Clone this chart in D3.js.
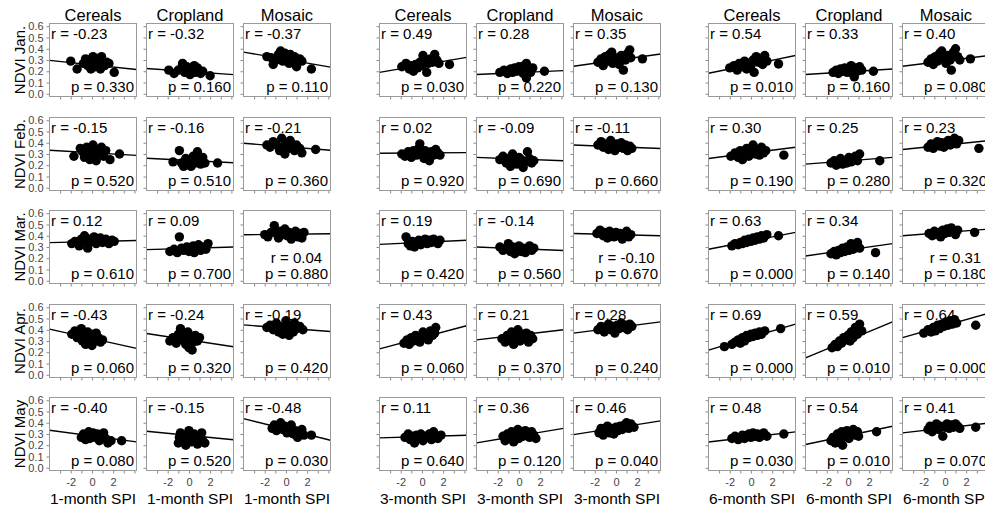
<!DOCTYPE html>
<html>
<head>
<meta charset="utf-8">
<script src="https://cdn.jsdelivr.net/npm/d3@7"></script>
<style>
  body { margin: 0; background: #fff; }
  svg { display: block; }
  text { font-family: "Liberation Sans", Arial, Helvetica, sans-serif; }
</style>
</head>
<body>
<svg id="chart" width="985" height="509"></svg>
<script>
// ---- categories and labels ----
const spiScales = ["1-month SPI", "3-month SPI", "6-month SPI"];
const months = ["Jan.", "Feb.", "Mar.", "Apr.", "May"];
const covers = ["Cereals", "Cropland", "Mosaic"];
const yTicks = [0, 0.1, 0.2, 0.3, 0.4, 0.5, 0.6];
const xTicks = [-3, -2, -1, 0, 1, 2, 3, 4];
const xTickLabels = [-2, 0, 2];

// ---- correlation coefficients (rows: months, cols: covers) ----
const r1m = [[-0.23, -0.32, -0.37], [-0.15, -0.16, -0.21], [0.12, 0.09, 0.04], [-0.43, -0.24, -0.19], [-0.40, -0.15, -0.48]];
const r3m = [[0.49, 0.28, 0.35], [0.02, -0.09, -0.11], [0.19, -0.14, -0.10], [0.43, 0.21, 0.28], [0.11, 0.36, 0.46]];
const r6m = [[0.54, 0.33, 0.40], [0.30, 0.25, 0.23], [0.63, 0.34, 0.31], [0.69, 0.59, 0.64], [0.48, 0.54, 0.41]];

// ---- p-values ----
const p1m = [[0.330, 0.160, 0.110], [0.520, 0.510, 0.360], [0.610, 0.700, 0.880], [0.060, 0.320, 0.420], [0.080, 0.520, 0.030]];
const p3m = [[0.030, 0.220, 0.130], [0.920, 0.690, 0.660], [0.420, 0.560, 0.670], [0.060, 0.370, 0.240], [0.640, 0.120, 0.040]];
const p6m = [[0.010, 0.160, 0.080], [0.190, 0.280, 0.320], [0.000, 0.140, 0.180], [0.000, 0.010, 0.000], [0.030, 0.010, 0.070]];

// ---- fitted lines: [intercept, slope] of NDVI on SPI ----
const fit1m = [
  [[0.257, -0.0098], [0.198, -0.0067], [0.305, -0.0163]],
  [[0.311, -0.0055], [0.243, -0.0048], [0.365, -0.0076]],
  [[0.348, 0.0024], [0.288, 0.0029], [0.413, 0.0011]],
  [[0.322, -0.0209], [0.309, -0.0143], [0.414, -0.0072]],
  [[0.283, -0.0126], [0.288, -0.0092], [0.343, -0.0234]]
];
const fit3m = [
  [[0.255, 0.0163], [0.188, 0.0043], [0.298, 0.0133]],
  [[0.309, 0.0007], [0.255, -0.0037], [0.365, -0.0037]],
  [[0.341, 0.0045], [0.285, -0.0037], [0.410, -0.0024]],
  [[0.330, 0.0251], [0.354, 0.0110], [0.419, 0.0122]],
  [[0.277, 0.0029], [0.284, 0.0157], [0.354, 0.0148]]
];
const fit6m = [
  [[0.259, 0.0192], [0.195, 0.0060], [0.291, 0.0116]],
  [[0.309, 0.0122], [0.239, 0.0073], [0.379, 0.0098]],
  [[0.353, 0.0183], [0.274, 0.0134], [0.429, 0.0073]],
  [[0.332, 0.0281], [0.306, 0.0390], [0.437, 0.0268]],
  [[0.273, 0.0109], [0.286, 0.0198], [0.353, 0.0107]]
];

// ---- observations: [SPI, NDVI] ----
const pts1m = [
  [ // Jan.
    [[-2.0,0.29],[-1.4,0.22],[-0.8,0.27],[-0.6,0.31],[-0.4,0.25],[-0.3,0.30],[-0.1,0.22],[0.0,0.28],[0.1,0.33],[0.2,0.26],[0.3,0.24],[0.5,0.29],[0.7,0.31],[0.8,0.22],[0.9,0.33],[1.0,0.27],[1.2,0.25],[1.4,0.28],[1.6,0.27],[2.1,0.19]],
    [[-1.9,0.21],[-1.4,0.18],[-1.0,0.21],[-0.7,0.23],[-0.6,0.27],[-0.4,0.19],[-0.2,0.24],[0.0,0.21],[0.1,0.17],[0.3,0.22],[0.5,0.25],[0.6,0.19],[0.8,0.23],[0.9,0.21],[1.1,0.18],[1.3,0.20],[2.0,0.16]],
    [[-1.8,0.33],[-1.4,0.32],[-1.2,0.26],[-0.9,0.30],[-0.7,0.35],[-0.5,0.38],[-0.4,0.33],[-0.3,0.29],[-0.1,0.36],[0.0,0.31],[0.2,0.34],[0.3,0.27],[0.4,0.35],[0.6,0.30],[0.8,0.33],[1.0,0.24],[1.3,0.31],[1.5,0.29],[2.4,0.22]]
  ],
  [ // Feb.
    [[-1.7,0.28],[-1.1,0.35],[-0.9,0.32],[-0.7,0.27],[-0.5,0.36],[-0.3,0.30],[-0.2,0.25],[0.0,0.33],[0.1,0.38],[0.2,0.29],[0.4,0.24],[0.5,0.34],[0.7,0.31],[0.9,0.36],[1.1,0.28],[1.3,0.33],[1.7,0.25],[2.6,0.30]],
    [[-1.5,0.23],[-0.9,0.33],[-0.7,0.22],[-0.5,0.19],[-0.3,0.26],[-0.1,0.21],[0.1,0.24],[0.2,0.19],[0.4,0.28],[0.6,0.22],[0.8,0.32],[0.9,0.25],[1.1,0.21],[1.3,0.27],[1.5,0.22],[2.7,0.22]],
    [[-1.8,0.38],[-1.5,0.36],[-1.2,0.41],[-0.9,0.38],[-0.6,0.33],[-0.4,0.44],[-0.3,0.36],[-0.1,0.30],[0.1,0.39],[0.3,0.35],[0.4,0.42],[0.6,0.37],[0.8,0.33],[1.0,0.38],[1.3,0.35],[1.5,0.31],[2.8,0.34]]
  ],
  [ // Mar.
    [[-1.9,0.33],[-1.6,0.35],[-1.2,0.31],[-1.0,0.37],[-0.7,0.40],[-0.5,0.34],[-0.4,0.29],[-0.2,0.37],[0.0,0.35],[0.2,0.39],[0.4,0.33],[0.6,0.36],[0.8,0.38],[1.0,0.34],[1.3,0.37],[1.6,0.33],[1.9,0.36],[2.1,0.35]],
    [[-1.8,0.26],[-1.4,0.28],[-1.1,0.25],[-0.9,0.39],[-0.7,0.29],[-0.5,0.27],[-0.2,0.30],[0.0,0.26],[0.2,0.28],[0.4,0.31],[0.5,0.25],[0.7,0.29],[0.9,0.32],[1.1,0.27],[1.3,0.30],[1.6,0.28],[1.8,0.33]],
    [[-2.0,0.41],[-1.7,0.39],[-1.4,0.43],[-1.1,0.49],[-0.9,0.42],[-0.7,0.38],[-0.5,0.44],[-0.3,0.41],[-0.1,0.46],[0.1,0.40],[0.3,0.43],[0.5,0.37],[0.7,0.41],[0.9,0.44],[1.1,0.39],[1.3,0.42],[1.5,0.38],[1.7,0.43]]
  ],
  [ // Apr.
    [[-1.9,0.36],[-1.6,0.39],[-1.4,0.33],[-1.2,0.37],[-1.0,0.41],[-0.9,0.30],[-0.7,0.35],[-0.6,0.27],[-0.4,0.38],[-0.3,0.32],[-0.1,0.36],[0.0,0.26],[0.1,0.34],[0.3,0.30],[0.4,0.37],[0.6,0.33],[0.8,0.29],[1.0,0.31]],
    [[-1.8,0.30],[-1.5,0.33],[-1.2,0.28],[-1.0,0.36],[-0.8,0.41],[-0.6,0.31],[-0.4,0.34],[-0.3,0.27],[-0.1,0.38],[0.0,0.24],[0.2,0.32],[0.3,0.22],[0.4,0.29],[0.6,0.35],[0.8,0.30],[1.0,0.33]],
    [[-1.8,0.42],[-1.5,0.44],[-1.2,0.40],[-0.9,0.46],[-0.7,0.38],[-0.5,0.42],[-0.3,0.36],[-0.1,0.44],[0.0,0.48],[0.2,0.40],[0.3,0.35],[0.5,0.43],[0.7,0.38],[0.8,0.46],[1.0,0.41],[1.3,0.43],[1.6,0.40]]
  ],
  [ // May
    [[-1.0,0.27],[-0.8,0.30],[-0.6,0.25],[-0.5,0.29],[-0.3,0.32],[-0.2,0.26],[0.0,0.29],[0.1,0.31],[0.3,0.27],[0.5,0.30],[0.7,0.24],[0.9,0.29],[1.1,0.31],[1.3,0.26],[1.5,0.22],[1.8,0.24],[2.8,0.24]],
    [[-1.0,0.22],[-0.9,0.27],[-0.8,0.31],[-0.6,0.24],[-0.5,0.29],[-0.3,0.20],[-0.1,0.26],[0.0,0.33],[0.2,0.23],[0.3,0.28],[0.5,0.30],[0.7,0.25],[0.8,0.21],[1.0,0.27],[1.2,0.31],[1.3,0.24],[1.5,0.22]],
    [[-1.3,0.35],[-1.1,0.38],[-0.9,0.33],[-0.7,0.36],[-0.5,0.40],[-0.3,0.34],[-0.1,0.37],[0.1,0.31],[0.3,0.35],[0.5,0.38],[0.7,0.30],[0.9,0.33],[1.1,0.27],[1.3,0.31],[1.5,0.34],[1.7,0.29],[2.4,0.29]]
  ]
];

const pts3m = [
  [ // Jan.
    [[-1.9,0.24],[-1.5,0.27],[-1.2,0.22],[-1.0,0.25],[-0.8,0.20],[-0.6,0.26],[-0.4,0.23],[-0.2,0.28],[0.0,0.25],[0.1,0.34],[0.3,0.30],[0.45,0.19],[0.6,0.27],[0.8,0.31],[1.0,0.28],[1.2,0.35],[1.4,0.30],[1.6,0.27],[2.6,0.26]],
    [[-1.8,0.19],[-1.4,0.21],[-1.1,0.18],[-0.8,0.22],[-0.6,0.19],[-0.4,0.23],[-0.2,0.20],[0.0,0.24],[0.2,0.21],[0.4,0.18],[0.5,0.25],[0.7,0.27],[0.7,0.14],[0.9,0.22],[1.1,0.19],[1.3,0.23],[2.4,0.20]],
    [[-1.7,0.28],[-1.4,0.31],[-1.2,0.25],[-1.0,0.33],[-0.8,0.29],[-0.6,0.35],[-0.4,0.37],[-0.3,0.27],[-0.1,0.32],[0.1,0.30],[0.3,0.26],[0.5,0.34],[0.7,0.21],[0.9,0.30],[1.1,0.36],[1.3,0.39],[1.4,0.32],[2.5,0.31]]
  ],
  [ // Feb.
    [[-1.9,0.30],[-1.6,0.28],[-1.3,0.32],[-1.0,0.27],[-0.8,0.33],[-0.5,0.29],[-0.3,0.35],[-0.2,0.39],[0.0,0.31],[0.2,0.26],[0.3,0.33],[0.5,0.30],[0.7,0.24],[0.9,0.32],[1.1,0.29],[1.3,0.34],[1.5,0.31],[1.7,0.29]],
    [[-1.8,0.25],[-1.5,0.28],[-1.2,0.22],[-1.0,0.26],[-0.8,0.19],[-0.6,0.30],[-0.4,0.24],[-0.2,0.21],[0.0,0.27],[0.2,0.25],[0.4,0.18],[0.6,0.23],[0.8,0.32],[1.0,0.26],[1.2,0.22],[1.4,0.24]],
    [[-1.7,0.38],[-1.4,0.41],[-1.2,0.36],[-0.9,0.39],[-0.7,0.34],[-0.5,0.42],[-0.3,0.37],[-0.1,0.33],[0.1,0.39],[0.3,0.36],[0.5,0.40],[0.7,0.35],[0.9,0.38],[1.1,0.33],[1.3,0.37],[1.5,0.35]]
  ],
  [ // Mar.
    [[-1.5,0.39],[-1.3,0.33],[-1.1,0.31],[-0.9,0.35],[-0.7,0.30],[-0.5,0.34],[-0.3,0.36],[-0.1,0.32],[0.1,0.35],[0.3,0.37],[0.5,0.33],[0.7,0.36],[0.9,0.34],[1.1,0.37],[1.3,0.35],[1.5,0.33],[1.7,0.36]],
    [[-1.8,0.30],[-1.5,0.27],[-1.2,0.29],[-1.0,0.33],[-0.8,0.26],[-0.6,0.30],[-0.4,0.24],[-0.2,0.28],[0.0,0.31],[0.2,0.26],[0.4,0.29],[0.6,0.25],[0.8,0.28],[1.0,0.31],[1.2,0.27],[1.4,0.29]],
    [[-1.8,0.42],[-1.5,0.45],[-1.2,0.40],[-1.0,0.43],[-0.8,0.38],[-0.6,0.44],[-0.4,0.41],[-0.2,0.39],[0.0,0.43],[0.2,0.40],[0.4,0.42],[0.6,0.37],[0.8,0.41],[1.0,0.44],[1.2,0.39],[1.4,0.41]]
  ],
  [ // Apr.
    [[-1.7,0.28],[-1.4,0.31],[-1.2,0.27],[-1.0,0.33],[-0.8,0.30],[-0.6,0.35],[-0.4,0.32],[-0.2,0.29],[0.0,0.34],[0.1,0.38],[0.3,0.33],[0.5,0.36],[0.6,0.31],[0.8,0.39],[1.0,0.35],[1.2,0.37],[1.3,0.42]],
    [[-1.6,0.32],[-1.3,0.29],[-1.1,0.35],[-0.9,0.31],[-0.7,0.38],[-0.5,0.27],[-0.3,0.34],[-0.1,0.40],[0.1,0.30],[0.3,0.36],[0.5,0.33],[0.7,0.37],[0.9,0.29],[1.1,0.35],[1.3,0.32]],
    [[-1.7,0.40],[-1.4,0.43],[-1.1,0.38],[-0.9,0.42],[-0.7,0.45],[-0.5,0.40],[-0.3,0.43],[-0.1,0.37],[0.1,0.44],[0.3,0.41],[0.5,0.46],[0.7,0.42],[0.9,0.44],[1.1,0.40],[1.3,0.45],[1.5,0.43]]
  ],
  [ // May
    [[-1.6,0.27],[-1.3,0.30],[-1.1,0.25],[-0.9,0.28],[-0.7,0.22],[-0.5,0.29],[-0.3,0.26],[-0.1,0.30],[0.1,0.24],[0.3,0.28],[0.5,0.27],[0.7,0.30],[0.9,0.25],[1.1,0.32],[1.3,0.28],[1.5,0.26],[1.8,0.29]],
    [[-1.5,0.28],[-1.3,0.24],[-1.1,0.30],[-0.9,0.27],[-0.7,0.32],[-0.5,0.23],[-0.3,0.29],[-0.1,0.34],[0.0,0.26],[0.2,0.31],[0.4,0.28],[0.6,0.33],[0.8,0.30],[1.0,0.27],[1.2,0.32],[1.4,0.29],[1.6,0.26]],
    [[-1.6,0.31],[-1.4,0.35],[-1.2,0.29],[-1.0,0.33],[-0.8,0.37],[-0.6,0.31],[-0.4,0.35],[-0.2,0.30],[0.0,0.36],[0.2,0.33],[0.4,0.37],[0.6,0.34],[0.8,0.38],[1.0,0.40],[1.2,0.35],[1.4,0.39],[1.7,0.36]]
  ]
];

const pts6m = [
  [ // Jan.
    [[-2.0,0.23],[-1.6,0.25],[-1.3,0.21],[-1.1,0.27],[-0.8,0.24],[-0.6,0.29],[-0.4,0.22],[-0.2,0.27],[0.0,0.25],[0.2,0.30],[0.3,0.19],[0.5,0.33],[0.7,0.28],[0.9,0.31],[1.1,0.26],[1.3,0.34],[1.5,0.29],[2.6,0.265]],
    [[-1.4,0.19],[-1.1,0.21],[-0.9,0.18],[-0.7,0.22],[-0.5,0.20],[-0.3,0.23],[-0.1,0.19],[0.1,0.22],[0.3,0.25],[0.4,0.18],[0.6,0.15],[0.7,0.23],[0.9,0.20],[1.1,0.24],[1.3,0.21],[2.4,0.20]],
    [[-1.6,0.28],[-1.3,0.31],[-1.1,0.26],[-0.9,0.33],[-0.7,0.29],[-0.5,0.36],[-0.3,0.38],[-0.1,0.31],[0.1,0.27],[0.3,0.34],[0.5,0.30],[0.6,0.21],[0.8,0.37],[1.0,0.40],[1.2,0.33],[1.4,0.30],[2.4,0.31]]
  ],
  [ // Feb.
    [[-1.9,0.28],[-1.5,0.31],[-1.2,0.27],[-1.0,0.33],[-0.8,0.25],[-0.6,0.30],[-0.4,0.35],[-0.2,0.28],[0.0,0.32],[0.2,0.38],[0.4,0.30],[0.6,0.34],[0.8,0.29],[1.0,0.36],[1.2,0.31],[1.4,0.33],[3.1,0.29]],
    [[-1.6,0.22],[-1.3,0.24],[-1.1,0.20],[-0.9,0.23],[-0.7,0.26],[-0.5,0.21],[-0.3,0.24],[-0.1,0.22],[0.1,0.27],[0.3,0.23],[0.5,0.25],[0.7,0.28],[0.9,0.24],[1.1,0.30],[3.0,0.24]],
    [[-1.6,0.36],[-1.3,0.39],[-1.1,0.35],[-0.9,0.38],[-0.7,0.41],[-0.5,0.37],[-0.3,0.40],[-0.1,0.36],[0.1,0.39],[0.3,0.42],[0.5,0.38],[0.7,0.41],[0.9,0.44],[1.1,0.39],[1.3,0.42],[3.2,0.35]]
  ],
  [ // Mar.
    [[-1.8,0.31],[-1.5,0.33],[-1.2,0.32],[-1.0,0.34],[-0.8,0.33],[-0.6,0.36],[-0.4,0.34],[-0.2,0.37],[0.0,0.35],[0.2,0.38],[0.4,0.36],[0.6,0.39],[0.8,0.37],[1.0,0.40],[1.2,0.38],[1.5,0.41],[2.6,0.40]],
    [[-1.6,0.24],[-1.3,0.26],[-1.1,0.23],[-0.9,0.27],[-0.7,0.25],[-0.5,0.29],[-0.3,0.26],[-0.1,0.30],[0.1,0.27],[0.3,0.33],[0.5,0.28],[0.7,0.31],[0.9,0.34],[1.1,0.29],[2.6,0.25]],
    [[-1.5,0.42],[-1.2,0.40],[-1.0,0.44],[-0.8,0.41],[-0.6,0.43],[-0.4,0.39],[-0.2,0.45],[0.0,0.42],[0.2,0.46],[0.4,0.43],[0.6,0.47],[0.8,0.44],[1.0,0.41],[1.2,0.45],[2.8,0.43]]
  ],
  [ // Apr.
    [[-2.5,0.25],[-1.8,0.27],[-1.5,0.29],[-1.2,0.31],[-1.0,0.28],[-0.8,0.33],[-0.6,0.30],[-0.4,0.35],[-0.2,0.33],[0.0,0.36],[0.2,0.34],[0.4,0.37],[0.6,0.35],[0.8,0.38],[1.0,0.36],[1.3,0.39],[2.8,0.41]],
    [[-1.5,0.24],[-1.2,0.27],[-1.0,0.25],[-0.8,0.30],[-0.6,0.28],[-0.4,0.33],[-0.2,0.31],[0.0,0.35],[0.2,0.30],[0.3,0.38],[0.5,0.33],[0.7,0.42],[0.9,0.36],[1.1,0.45],[1.3,0.39]],
    [[-2.0,0.37],[-1.6,0.40],[-1.3,0.38],[-1.1,0.42],[-0.9,0.39],[-0.7,0.44],[-0.5,0.41],[-0.3,0.45],[-0.1,0.43],[0.1,0.47],[0.3,0.44],[0.5,0.48],[0.7,0.45],[0.9,0.49],[1.1,0.46],[2.9,0.44]]
  ],
  [ // May
    [[-1.8,0.26],[-1.5,0.28],[-1.2,0.25],[-1.0,0.27],[-0.8,0.29],[-0.6,0.26],[-0.4,0.28],[-0.2,0.30],[0.0,0.27],[0.2,0.31],[0.4,0.28],[0.6,0.30],[0.8,0.27],[1.0,0.29],[1.2,0.31],[1.5,0.28],[3.1,0.30]],
    [[-1.6,0.24],[-1.4,0.27],[-1.2,0.22],[-1.0,0.30],[-0.8,0.26],[-0.6,0.32],[-0.5,0.20],[-0.3,0.28],[-0.1,0.33],[0.1,0.26],[0.3,0.30],[0.5,0.34],[0.7,0.29],[0.9,0.32],[1.0,0.28],[2.7,0.32]],
    [[-1.6,0.34],[-1.4,0.37],[-1.2,0.32],[-1.0,0.35],[-0.8,0.39],[-0.6,0.34],[-0.4,0.37],[-0.2,0.28],[0.0,0.36],[0.2,0.39],[0.4,0.35],[0.6,0.38],[0.8,0.36],[1.0,0.39],[1.2,0.37],[1.4,0.35],[2.9,0.36]]
  ]
];

// ---- layout ----
const svg = d3.select("#chart");
const panelW = 87, panelH = 73;
const groupLeft = 49, groupStep = 329.7, colStep = 97;
const rowTop0 = 23, rowStep = 93.6;

const x = d3.scaleLinear().domain([-4.0, 4.2]).range([0, panelW]);
const y = d3.scaleLinear().domain([-0.024, 0.624]).range([panelH, 0]);

const scales = [
  { label: spiScales[0], r: r1m, p: p1m, fit: fit1m, pts: pts1m },
  { label: spiScales[1], r: r3m, p: p3m, fit: fit3m, pts: pts3m },
  { label: spiScales[2], r: r6m, p: p6m, fit: fit6m, pts: pts6m }
];

svg.append("defs").append("clipPath").attr("id", "panel-clip")
  .append("rect").attr("x", 0).attr("y", 0).attr("width", panelW).attr("height", panelH);

const axisGrey = "#8a8a8a";
const tickText = "#444";

scales.forEach((sc, g) => {
  months.forEach((mon, ri) => {
    covers.forEach((cov, ci) => {
      const left = Math.round(groupLeft + g * groupStep + ci * colStep) + 0.5;
      const top = Math.round(rowTop0 + ri * rowStep) + 0.5;
      const panel = svg.append("g").attr("transform", `translate(${left},${top})`);

      // left axis ticks (labels only in the very first column)
      const firstCol = g === 0 && ci === 0;
      const yAxis = d3.axisLeft(y).tickValues(yTicks).tickSize(3).tickPadding(3)
        .tickFormat(firstCol ? d3.format(".1f") : () => "");
      const ya = panel.append("g").call(yAxis);
      ya.select(".domain").remove();
      ya.selectAll(".tick line").attr("stroke", axisGrey);
      ya.selectAll(".tick text").attr("fill", tickText).style("font-size", "11px")
        .style("font-family", "'Liberation Sans', Arial, sans-serif");

      // bottom axis ticks (labels only on the last row)
      const lastRow = ri === months.length - 1;
      const xAxis = d3.axisBottom(x).tickValues(xTicks).tickSize(3).tickPadding(5)
        .tickFormat(d => (lastRow && xTickLabels.includes(d)) ? String(d) : "");
      const xa = panel.append("g").attr("transform", `translate(0,${panelH})`).call(xAxis);
      xa.select(".domain").remove();
      xa.selectAll(".tick line").attr("stroke", axisGrey);
      xa.selectAll(".tick text").attr("fill", tickText).style("font-size", "11px")
        .style("font-family", "'Liberation Sans', Arial, sans-serif");

      // plotted data, clipped to the frame
      const plot = panel.append("g").attr("clip-path", "url(#panel-clip)");
      const [b0, b1] = sc.fit[ri][ci];
      const [x0, x1] = x.domain();
      plot.append("line")
        .attr("x1", x(x0)).attr("y1", y(b0 + b1 * x0))
        .attr("x2", x(x1)).attr("y2", y(b0 + b1 * x1))
        .attr("stroke", "#000").attr("stroke-width", 1.4);
      plot.selectAll("circle").data(sc.pts[ri][ci]).join("circle")
        .attr("cx", d => x(d[0])).attr("cy", d => y(d[1]))
        .attr("r", 4.7).attr("fill", "#000");

      // frame
      panel.append("rect").attr("width", panelW).attr("height", panelH)
        .attr("fill", "none").attr("stroke", "#9a9a9a").attr("stroke-width", 1);

      // statistics
      const rText = "r = " + d3.format(".2f")(sc.r[ri][ci]).replace("\u2212", "-");
      const pText = "p = " + d3.format(".3f")(sc.p[ri][ci]);
      const pLabel = panel.append("text")
        .attr("x", panelW - 2.5).attr("y", panelH - 5)
        .attr("text-anchor", "end").style("font-size", "15px").attr("fill", "#000")
        .text(pText);
      if (cov === "Mosaic" && mon === "Mar.") {
        const pw = pLabel.node().getComputedTextLength();
        panel.append("text")
          .attr("x", panelW - 2.5 - pw / 2).attr("y", panelH - 20.5)
          .attr("text-anchor", "middle").style("font-size", "15px").attr("fill", "#000")
          .text(rText);
      } else {
        panel.append("text")
          .attr("x", 1.5).attr("y", 15.5)
          .style("font-size", "15px").attr("fill", "#000")
          .text(rText);
      }

      // column titles
      if (ri === 0) {
        panel.append("text").attr("x", panelW / 2).attr("y", -2.5)
          .attr("text-anchor", "middle").style("font-size", "16.5px").attr("fill", "#000")
          .text(cov);
      }
      // x axis titles
      if (lastRow) {
        panel.append("text").attr("x", panelW / 2).attr("y", panelH + 33.5)
          .attr("text-anchor", "middle").style("font-size", "15.5px").attr("fill", "#000")
          .text(sc.label);
      }
      // row titles
      if (firstCol) {
        panel.append("text")
          .attr("transform", `translate(-25,${panelH / 2}) rotate(-90)`)
          .attr("text-anchor", "middle").style("font-size", "15px").attr("fill", "#000")
          .text("NDVI " + mon);
      }
    });
  });
});
</script>
</body>
</html>
